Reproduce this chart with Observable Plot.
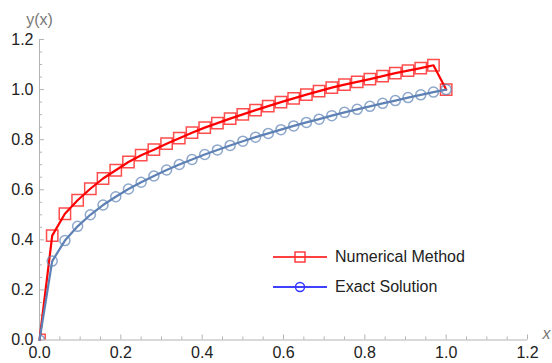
<!DOCTYPE html>
<html>
<head>
<meta charset="utf-8">
<script src="https://cdn.jsdelivr.net/npm/d3@7"></script>
<script src="https://cdn.jsdelivr.net/npm/@observablehq/plot@0.6"></script>
<style>
  body { margin: 0; background: #fff; }
  #wrap { position: relative; width: 552px; height: 363px; font-family: "Liberation Sans", Arial, sans-serif; }
  #legend { position: absolute; left: 272px; top: 242px; font-size: 16px; color: #222; }
  .row { display: flex; align-items: center; height: 30px; }
  .row svg { margin-right: 7px; }
</style>
</head>
<body>
<div id="wrap">
  <div id="chart"></div>
  <div id="legend">
    <div class="row"><svg width="56" height="14"><line x1="1" y1="7" x2="55" y2="7" stroke="#ff0000" stroke-width="1.6"/><rect x="23" y="2" width="10" height="10" fill="none" stroke="#ff3333" stroke-width="1.4"/></svg><span>Numerical Method</span></div>
    <div class="row"><svg width="56" height="14"><line x1="1" y1="7" x2="55" y2="7" stroke="#0000ff" stroke-width="1.6"/><circle cx="28" cy="7" r="4.5" fill="none" stroke="#3333ff" stroke-width="1.4"/></svg><span>Exact Solution</span></div>
  </div>
</div>
<script>
const xValues = [0, 0.03125, 0.0625, 0.09375, 0.125, 0.15625, 0.1875, 0.21875, 0.25, 0.28125,
  0.3125, 0.34375, 0.375, 0.40625, 0.4375, 0.46875, 0.5, 0.53125, 0.5625, 0.59375,
  0.625, 0.65625, 0.6875, 0.71875, 0.75, 0.78125, 0.8125, 0.84375, 0.875, 0.90625,
  0.9375, 0.96875, 1];
const numerical = [0, 0.417, 0.504, 0.558, 0.604, 0.645, 0.678, 0.711, 0.738, 0.760,
  0.784, 0.806, 0.828, 0.848, 0.866, 0.884, 0.901, 0.918, 0.934, 0.950,
  0.965, 0.980, 0.994, 1.008, 1.020, 1.031, 1.042, 1.054, 1.066, 1.076,
  1.086, 1.097, 1.0];
const exact = [0, 0.315, 0.397, 0.454, 0.500, 0.539, 0.572, 0.603, 0.630, 0.655,
  0.679, 0.701, 0.721, 0.741, 0.759, 0.777, 0.794, 0.810, 0.825, 0.840,
  0.855, 0.869, 0.882, 0.896, 0.909, 0.921, 0.933, 0.945, 0.956, 0.968,
  0.979, 0.990, 1.0];
const xMajor = [0, 0.2, 0.4, 0.6, 0.8, 1.0, 1.2];
const xMinor = [0.05, 0.1, 0.15, 0.25, 0.3, 0.35, 0.45, 0.5, 0.55, 0.65, 0.7, 0.75, 0.85, 0.9, 0.95, 1.05, 1.1, 1.15];
const yMajor = [0, 0.2, 0.4, 0.6, 0.8, 1.0, 1.2];
const yMinor = xMinor;
const xLabel = "x";
const yLabel = "y(x)";

const numData = xValues.map((x, i) => ({x, y: numerical[i]}));
const exData = xValues.map((x, i) => ({x, y: exact[i]}));
const fmt = d3.format(".1f");
const axisColor = "#b3b3b3";
const blue = "#5e81b5";

const chart = Plot.plot({
  width: 552,
  height: 363,
  marginLeft: 39,
  marginRight: 25,
  marginTop: 39,
  marginBottom: 23.5,
  style: {fontFamily: "'Liberation Sans', Arial, sans-serif", background: "white"},
  x: {domain: [0, 1.2], axis: null},
  y: {domain: [0, 1.2], axis: null},
  marks: [
    Plot.ruleY([0], {x1: 0, x2: 1.2, stroke: axisColor, strokeWidth: 1}),
    Plot.ruleX([0], {y1: 0, y2: 1.2, stroke: axisColor, strokeWidth: 1}),
    Plot.ruleX(xMajor, {x: d => d, y1: 0, y2: 0.02, stroke: axisColor}),
    Plot.ruleX(xMinor, {x: d => d, y1: 0, y2: 0.012, stroke: axisColor}),
    Plot.ruleY(yMajor, {y: d => d, x1: 0, x2: 0.0125, stroke: axisColor}),
    Plot.ruleY(yMinor, {y: d => d, x1: 0, x2: 0.0075, stroke: axisColor}),
    Plot.text(xMajor, {x: d => d, y: 0, text: d => fmt(d), dy: 13, fontSize: 16, fill: "#222"}),
    Plot.text(yMajor, {x: 0, y: d => d, text: d => fmt(d), dx: -6, textAnchor: "end", fontSize: 16, fill: "#222"}),
    Plot.text([yLabel], {x: 0, y: 1.2, text: d => d, dy: -20, fontSize: 16, fill: "#777"}),
    Plot.text([xLabel], {x: 1.2, y: 0, text: d => d, dx: 19, dy: -6, fontSize: 16, fill: "#777", fontStyle: "italic"}),
    Plot.line(numData, {x: "x", y: "y", stroke: "#ff0000", strokeWidth: 2.2}),
    Plot.dot(numData, {x: "x", y: "y", symbol: "square", r: 6.4, fill: "none", stroke: "#ff0000", strokeOpacity: 0.7, strokeWidth: 1.5, clip: true}),
    Plot.line(exData, {x: "x", y: "y", stroke: blue, strokeWidth: 2.2}),
    Plot.dot(exData, {x: "x", y: "y", symbol: "circle", r: 5, fill: "none", stroke: blue, strokeOpacity: 0.7, strokeWidth: 1.5, clip: true})
  ]
});
document.getElementById("chart").appendChild(chart);
</script>
</body>
</html>
